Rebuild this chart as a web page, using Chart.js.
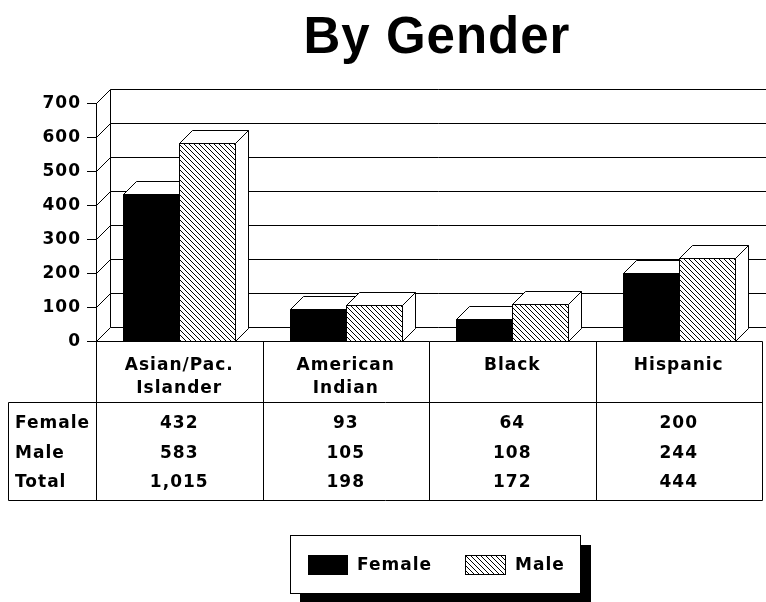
<!DOCTYPE html>
<html>
<head>
<meta charset="utf-8">
<style>
html,body{margin:0;padding:0;background:#fff;}
#wrap{width:766px;height:602px;}
canvas{display:block;}
</style>
<script src="https://cdn.jsdelivr.net/npm/chart.js@4.4.1/dist/chart.umd.min.js"></script>
</head>
<body>
<div id="wrap"><canvas id="c" width="766" height="602"></canvas></div>
<script>
// ---- data ----
const titleText = "By Gender";
const categories = [["Asian/Pac.", "Islander"], ["American", "Indian"], ["Black"], ["Hispanic"]];
const seriesNames = ["Female", "Male"];
const female = [432, 93, 64, 200];
const male = [583, 105, 108, 244];
const total = [1015, 198, 172, 444];
const yTicks = [0, 100, 200, 300, 400, 500, 600, 700];

// ---- style constants ----
const D = 14;      // wall depth
const BD = 13;     // bar depth
const FONT = 'bold 17px "DejaVu Sans"';

let hatchCache = null;
function getHatch(ctx) {
  if (hatchCache) return hatchCache;
  const s = 5;
  const c = document.createElement('canvas');
  c.width = s; c.height = s;
  const g = c.getContext('2d');
  g.fillStyle = '#fff'; g.fillRect(0, 0, s, s);
  g.strokeStyle = '#000'; g.lineWidth = 1;
  g.beginPath();
  [-s, 0, s].forEach(k => { g.moveTo(k - 1, -1); g.lineTo(k + s + 1, s + 1); });
  g.stroke();
  hatchCache = ctx.createPattern(c, 'repeat');
  return hatchCache;
}

function setText(ctx, font, align, baseline) {
  ctx.font = font;
  ctx.textAlign = align;
  ctx.textBaseline = baseline;
  ctx.fillStyle = '#000';
  try { ctx.letterSpacing = '1px'; } catch (e) {}
}

const threeD = {
  id: 'threeD',
  beforeDatasetsDraw(chart) {
    const {ctx, chartArea: a, scales: {y}} = chart;
    ctx.save();
    ctx.strokeStyle = '#000';
    ctx.lineWidth = 1;
    ctx.beginPath();
    yTicks.forEach(v => {
      const py = Math.round(y.getPixelForValue(v));
      ctx.moveTo(a.left + 0.5, py + 0.5);
      ctx.lineTo(a.left + D + 0.5, py - D + 0.5);
      ctx.lineTo(chart.width, py - D + 0.5);
    });
    const topY = Math.round(y.getPixelForValue(yTicks[yTicks.length - 1]));
    const botY = Math.round(y.getPixelForValue(yTicks[0]));
    ctx.moveTo(a.left + D + 0.5, botY - D + 0.5);
    ctx.lineTo(a.left + D + 0.5, topY - D + 0.5);
    ctx.stroke();
    ctx.restore();
  },
  afterDatasetsDraw(chart) {
    const {ctx} = chart;
    const pat = getHatch(ctx);
    const metas = [chart.getDatasetMeta(0), chart.getDatasetMeta(1)];
    ctx.save();
    ctx.strokeStyle = '#000';
    ctx.lineWidth = 1;
    for (let i = 0; i < categories.length; i++) {
      metas.forEach((m, d) => {
        const p = m.data[i].getProps(['x', 'y', 'base', 'width'], true);
        const L = Math.round(p.x - p.width / 2) + 0.5;
        const R = Math.round(p.x + p.width / 2) + 0.5;
        const T = Math.round(p.y) + 0.5;
        const B = Math.round(p.base) + 0.5;
        ctx.fillStyle = d === 0 ? '#000' : pat;
        ctx.fillRect(L, T, R - L, B - T);
        ctx.strokeRect(L, T, R - L, B - T);
        ctx.fillStyle = '#fff';
        ctx.beginPath();
        ctx.moveTo(L, T); ctx.lineTo(L + BD, T - BD); ctx.lineTo(R + BD, T - BD); ctx.lineTo(R, T);
        ctx.closePath(); ctx.fill(); ctx.stroke();
        ctx.beginPath();
        ctx.moveTo(R, T); ctx.lineTo(R + BD, T - BD); ctx.lineTo(R + BD, B - BD); ctx.lineTo(R, B);
        ctx.closePath(); ctx.fill(); ctx.stroke();
      });
    }
    ctx.restore();
  },
  afterDraw(chart) {
    const {ctx, chartArea: a, scales: {x, y}} = chart;
    ctx.save();

    // title
    setText(ctx, 'bold 51px "Liberation Sans"', 'center', 'alphabetic');
    ctx.fillText(titleText, 437, 53);

    // y tick labels
    setText(ctx, FONT, 'right', 'middle');
    yTicks.forEach(v => ctx.fillText(String(v), 81, y.getPixelForValue(v) + 1));

    // table
    const centers = categories.map((_, i) => x.getPixelForValue(i));
    const half = (centers[1] - centers[0]) / 2;
    const bounds = [centers[0] - half].concat(centers.map(c => c + half)).map(v => Math.round(v) + 0.5);
    const b0 = Math.round(a.bottom) + 0.5;
    const hdrB = b0 + 61, tblB = b0 + 159, rowL = 8.5;
    const right = bounds[bounds.length - 1];
    ctx.strokeStyle = '#000';
    ctx.lineWidth = 1;
    ctx.beginPath();
    ctx.moveTo(bounds[0], b0); ctx.lineTo(right, b0);
    ctx.moveTo(rowL, hdrB); ctx.lineTo(right, hdrB);
    ctx.moveTo(rowL, tblB); ctx.lineTo(right, tblB);
    bounds.forEach(bx => { ctx.moveTo(bx, b0); ctx.lineTo(bx, tblB); });
    ctx.moveTo(rowL, hdrB); ctx.lineTo(rowL, tblB);
    ctx.stroke();

    setText(ctx, FONT, 'center', 'middle');
    categories.forEach((lines, i) => {
      lines.forEach((t, k) => ctx.fillText(t, centers[i], b0 + 24 + k * 23));
    });
    const rows = [[seriesNames[0], female], [seriesNames[1], male], ["Total", total]];
    const rowY = [82, 112, 141];
    rows.forEach((r, k) => {
      setText(ctx, FONT, 'left', 'middle');
      ctx.fillText(r[0], 15, b0 + rowY[k]);
      setText(ctx, FONT, 'center', 'middle');
      r[1].forEach((v, i) => ctx.fillText(v.toLocaleString('en-US'), centers[i], b0 + rowY[k]));
    });

    // legend
    const lx = 290, ly = 535, lw = 290, lh = 58;
    ctx.fillStyle = '#000';
    ctx.fillRect(lx + 10, ly + 10, lw + 1, lh + 1);
    ctx.fillStyle = '#fff';
    ctx.fillRect(lx, ly, lw, lh);
    ctx.strokeRect(lx + 0.5, ly + 0.5, lw, lh);
    ctx.fillStyle = '#000';
    ctx.fillRect(308, 555, 40, 20);
    ctx.fillStyle = getHatch(ctx);
    ctx.fillRect(465, 555, 41, 20);
    ctx.strokeRect(465.5, 555.5, 40, 19);
    setText(ctx, FONT, 'left', 'middle');
    ctx.fillText(seriesNames[0], 357, 566);
    ctx.fillText(seriesNames[1], 515, 566);

    ctx.restore();
  }
};

new Chart(document.getElementById('c'), {
  type: 'bar',
  data: {
    labels: categories.map(c => c.join(' ')),
    datasets: [
      {label: seriesNames[0], data: female, backgroundColor: 'rgba(0,0,0,0)', borderWidth: 0},
      {label: seriesNames[1], data: male, backgroundColor: 'rgba(0,0,0,0)', borderWidth: 0}
    ]
  },
  options: {
    responsive: false,
    animation: false,
    devicePixelRatio: 1,
    layout: {padding: {top: 103, right: 4, bottom: 261, left: 0}},
    datasets: {bar: {categoryPercentage: 0.6727, barPercentage: 1}},
    plugins: {legend: {display: false}, title: {display: false}, tooltip: {enabled: false}},
    scales: {
      x: {display: false},
      y: {
        min: 0, max: 700,
        afterFit(s) { s.width = 96; },
        afterBuildTicks(s) { s.ticks = yTicks.map(v => ({value: v})); },
        ticks: {display: false},
        grid: {drawOnChartArea: false, drawTicks: true, tickLength: 9, color: '#000', lineWidth: 1},
        border: {display: true, color: '#000', width: 1}
      }
    }
  },
  plugins: [threeD]
});
</script>
</body>
</html>
